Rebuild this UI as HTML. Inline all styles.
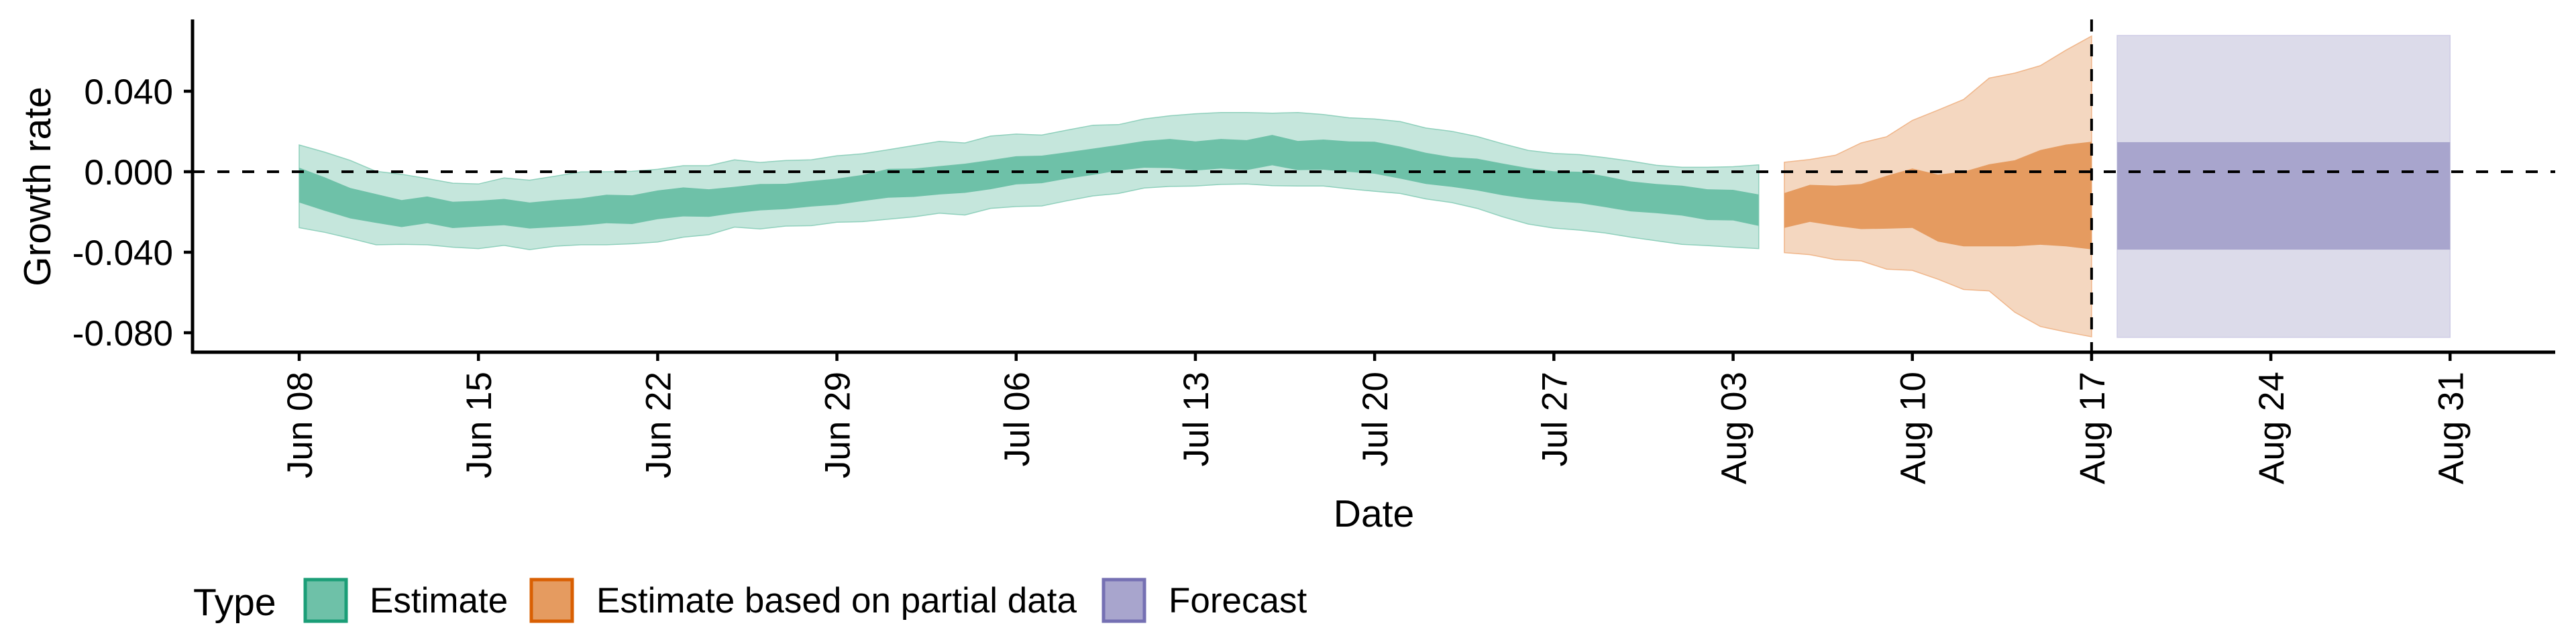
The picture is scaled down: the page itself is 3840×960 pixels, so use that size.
<!DOCTYPE html>
<html><head><meta charset="utf-8"><style>
html,body{margin:0;padding:0;background:#fff;}
svg{display:block;font-family:"Liberation Sans",Arial,sans-serif;}
</style></head><body>
<svg id="chart" width="3840" height="960" viewBox="0 0 3840 960">
<g id="plot"></g>
</svg>
<script>
// ---- data ----
const estOuterUpper=[.0133,.0097,.0056,.0002,-.0013,-.0034,-.0057,-.0061,-.0031,-.0042,-.0022,-.0001,0,.0002,.0012,.0030,.0030,.0059,.0046,.0056,.0059,.0079,.0089,.0109,.0130,.0151,.0143,.0177,.0187,.0182,.0207,.0231,.0234,.0262,.0278,.0288,.0294,.0294,.0291,.0294,.0284,.0268,.0262,.0249,.0217,.0201,.0175,.0139,.0106,.0091,.0085,.0070,.0053,.0032,.0022,.0022,.0025,.0034];
const estInnerUpper=[.0020,-.0028,-.0081,-.0111,-.0141,-.0123,-.0149,-.0144,-.0135,-.0153,-.0141,-.0132,-.0114,-.0117,-.0093,-.0078,-.0087,-.0075,-.0061,-.0060,-.0046,-.0034,-.0016,.0014,.0016,.0028,.0040,.0058,.0077,.0080,.0097,.0115,.0133,.0153,.0163,.0151,.0163,.0157,.0183,.0153,.0160,.0151,.0149,.0125,.0094,.0073,.0065,.0041,.0018,.0002,0,-.0022,-.0048,-.0061,-.0069,-.0087,-.0090,-.0113];
const estInnerLower=[-.0153,-.0194,-.0232,-.0254,-.0275,-.0256,-.0280,-.0272,-.0266,-.0282,-.0275,-.0268,-.0256,-.0260,-.0236,-.0222,-.0224,-.0206,-.0192,-.0186,-.0173,-.0164,-.0146,-.0129,-.0125,-.0113,-.0105,-.0087,-.0063,-.0057,-.0034,-.0016,.0006,.0020,.0018,.0006,.0016,.0008,.0032,.0008,.0010,-.0001,-.0010,-.0034,-.0061,-.0075,-.0093,-.0117,-.0135,-.0147,-.0156,-.0176,-.0197,-.0206,-.0218,-.0240,-.0242,-.0269];
const estOuterLower=[-.0278,-.0301,-.0331,-.0363,-.0361,-.0363,-.0375,-.0382,-.0366,-.0387,-.0370,-.0363,-.0363,-.0358,-.0349,-.0325,-.0313,-.0275,-.0284,-.0270,-.0268,-.0251,-.0248,-.0236,-.0224,-.0206,-.0215,-.0182,-.0173,-.0170,-.0144,-.0120,-.0108,-.0081,-.0073,-.0071,-.0063,-.0061,-.0069,-.0071,-.0071,-.0085,-.0097,-.0108,-.0135,-.0153,-.0182,-.0224,-.0260,-.0280,-.0290,-.0304,-.0325,-.0343,-.0361,-.0367,-.0375,-.0382];
const estStartDay=0;
const partOuterUpper=[.0047,.0061,.0082,.0143,.0174,.0255,.0306,.0359,.0465,.0490,.0527,.0604,.0674];
const partInnerUpper=[-.0106,-.0065,-.0069,-.0061,-.0020,.0016,-.0014,0,.0037,.0057,.0108,.0135,.0149];
const partInnerLower=[-.0279,-.0249,-.0269,-.0285,-.0283,-.0279,-.0347,-.0371,-.0371,-.0371,-.0363,-.0371,-.0386];
const partOuterLower=[-.0402,-.0412,-.0437,-.0443,-.0484,-.0490,-.0534,-.0585,-.0592,-.0698,-.0769,-.0796,-.0820];
const partStartDay=58;
const forecastDays=[71,84];
const forecastOuter=[-.0823,.0677];
const forecastInner=[-.0387,.0147];
const yTicks=[-0.08,-0.04,0,0.04];
const yTickLabels=["-0.080","-0.040","0.000","0.040"];
const xTickDays=[0,7,14,21,28,35,42,49,56,63,70,77,84];
const xTickLabels=["Jun 08","Jun 15","Jun 22","Jun 29","Jul 06","Jul 13","Jul 20","Jul 27","Aug 03","Aug 10","Aug 17","Aug 24","Aug 31"];
const cutoffDay=70;

// ---- scales ----
const X0=446, PXDAY=38.17;
const xS=d=>X0+d*PXDAY;
const yS=v=>256-v*3000;
const NS="http://www.w3.org/2000/svg";
const plot=document.getElementById('plot');
function mk(tag,attrs,parent){const e=document.createElementNS(NS,tag);for(const k in attrs)e.setAttribute(k,attrs[k]);(parent||plot).appendChild(e);return e;}
function band(up,lo,start){
  let pts=up.map((v,i)=>xS(start+i).toFixed(1)+','+yS(v).toFixed(1));
  for(let i=lo.length-1;i>=0;i--)pts.push(xS(start+i).toFixed(1)+','+yS(lo[i]).toFixed(1));
  return pts.join(' ');
}
// estimate
let e;
e=mk('polygon',{points:band(estOuterUpper,estOuterLower,estStartDay),fill:'#c5e6dc',stroke:'#8fd0bc','stroke-width':1.5});


e=mk('polygon',{points:band(estInnerUpper,estInnerLower,estStartDay),fill:'#6ec1a8'});


// partial
e=mk('polygon',{points:band(partOuterUpper,partOuterLower,partStartDay),fill:'#f4d7c0',stroke:'#f0b68a','stroke-width':1.5});


e=mk('polygon',{points:band(partInnerUpper,partInnerLower,partStartDay),fill:'#e59b60'});


// forecast
e=mk('rect',{x:xS(forecastDays[0]),y:yS(forecastOuter[1]),width:xS(forecastDays[1])-xS(forecastDays[0]),height:yS(forecastOuter[0])-yS(forecastOuter[1]),fill:'#dcdbea',stroke:'#cfcde6','stroke-width':1.5});


e=mk('rect',{x:xS(forecastDays[0]),y:yS(forecastInner[1]),width:xS(forecastDays[1])-xS(forecastDays[0]),height:yS(forecastInner[0])-yS(forecastInner[1]),fill:'#a8a5cd'});


// reference lines
e=mk('line',{x1:287,x2:3809,y1:yS(0),y2:yS(0),stroke:'#000','stroke-width':4,'stroke-dasharray':'18 19'});


e=mk('line',{x1:xS(cutoffDay),x2:xS(cutoffDay),y1:29,y2:525,stroke:'#000','stroke-width':4,'stroke-dasharray':'18 19'});


// axes
e=mk('line',{x1:287,x2:287,y1:29,y2:527,stroke:'#000','stroke-width':5});


e=mk('line',{x1:285,x2:3809,y1:525,y2:525,stroke:'#000','stroke-width':5});


yTicks.forEach((v,i)=>{
  const t=mk('line',{x1:274,x2:287,y1:yS(v),y2:yS(v),stroke:'#000','stroke-width':4.5});
  
  
  const l=mk('text',{x:258,y:yS(v)+19,'text-anchor':'end','font-size':53,fill:'#000'});
  l.textContent=yTickLabels[i];
  
  
});
xTickDays.forEach((d,i)=>{
  const x=xS(d);
  const t=mk('line',{x1:x,x2:x,y1:525,y2:538,stroke:'#000','stroke-width':4.5});
  
  
  const l=mk('text',{x:0,y:0,'text-anchor':'end','font-size':53,fill:'#000',transform:`translate(${x+19},554) rotate(-90)`});
  l.textContent=xTickLabels[i];
  
  
});
e=mk('text',{x:2048,y:785,'text-anchor':'middle','font-size':57,fill:'#000'});
e.textContent='Date';


e=mk('text',{x:0,y:0,'text-anchor':'middle','font-size':57,fill:'#000',transform:'translate(75,278) rotate(-90)'});
e.textContent='Growth rate';


// legend
e=mk('text',{x:288,y:917,'font-size':57,fill:'#000'});
e.textContent='Type';


const legKeys=[[455,'#6ec1a8','#1b9e77','Estimate',551],[792,'#e59b60','#d95f02','Estimate based on partial data',889],[1645,'#a8a5cd','#7570b3','Forecast',1742]];
legKeys.forEach(k=>{
  const r=mk('rect',{x:k[0],y:864,width:61,height:62,fill:k[1],stroke:k[2],'stroke-width':5});
  
  
  const t=mk('text',{x:k[4],y:913,'font-size':53,fill:'#000'});
  t.textContent=k[3];
  
  
});
</script>
</body></html>
